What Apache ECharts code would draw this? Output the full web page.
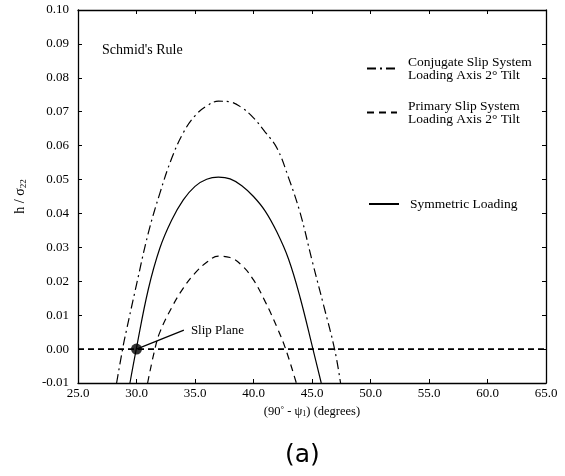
<!DOCTYPE html>
<html>
<head>
<meta charset="utf-8">
<script src="https://cdn.jsdelivr.net/npm/echarts@6/dist/echarts.min.js"></script>
<style>
  html, body { margin: 0; padding: 0; background: #fff; }
  #chart { width: 565px; height: 476px; }
</style>
</head>
<body>
<div id="chart"></div>
<script>
// Resolved shear stress ratio h / sigma22 versus (90° - psi1), Schmid's rule.
var xTicks = [25, 30, 35, 40, 45, 50, 55, 60, 65];
var yTicks = [-0.01, 0.00, 0.01, 0.02, 0.03, 0.04, 0.05, 0.06, 0.07, 0.08, 0.09, 0.10];

// Conjugate slip system, loading axis 2° tilt
var conjDeg = [28.3, 28.81, 29, 30, 31, 32, 33, 34, 35, 36, 37, 38, 39, 40, 41, 42, 43, 44, 45, 46, 46.93, 47.44];
var conjH   = [-0.01, 0, 0.0033, 0.0190, 0.0341, 0.0460, 0.0562, 0.0638, 0.0688, 0.0717, 0.0731, 0.0729, 0.0712, 0.0682, 0.0640, 0.0593, 0.0505, 0.0400, 0.0262, 0.0128, 0, -0.01];

// Primary slip system, loading axis 2° tilt
var primDeg = [30.95, 31.57, 32, 33, 34, 35, 36, 37, 38, 39, 40, 41, 42, 42.75, 43.66];
var primH   = [-0.01, 0, 0.0050, 0.0122, 0.0180, 0.0224, 0.0256, 0.0274, 0.0270, 0.0247, 0.0204, 0.0140, 0.0065, 0, -0.01];

// Symmetric loading
var symDeg = [29.44, 29.98, 31, 32, 33, 34, 35, 36, 37, 38, 39, 40, 41, 42, 43, 44, 45.08, 45.79];
var symH   = [-0.01, 0, 0.0175, 0.0298, 0.0380, 0.0440, 0.0480, 0.0501, 0.0507, 0.0502, 0.0482, 0.0450, 0.0407, 0.0345, 0.0265, 0.0150, 0, -0.01];

// Zero reference line, slip plane point and its pointer
var zeroLineDeg = [25, 65];
var zeroLineH = [0, 0];
var slipPoint = [30.0, 0.0];
var slipPointerEnd = [34.05, 0.0056];

function pairs(xs, ys) { return xs.map(function (x, i) { return [x, ys[i]]; }); }

var SERIF = '"Liberation Serif", "DejaVu Serif", serif';
var DASH_DOT = [9, 4, 2, 4];
var DASHED = [7, 5];

var chart = echarts.init(document.getElementById('chart'), null, { renderer: 'canvas' });

var tickStyle = { show: true, inside: true, length: 4, lineStyle: { color: '#000', width: 1 } };
var axisLine = { show: true, onZero: false, lineStyle: { color: '#000', width: 1.3 } };

// one legend block per series so each can sit at its own spot; the line sample
// keeps the series dash pattern while the marker symbol is hidden
function legendBox(name, left, top) {
  return {
    data: [name],
    left: left, top: top,
    orient: 'vertical',
    itemWidth: 30, itemHeight: 12, itemGap: 0,
    itemStyle: { opacity: 0 },
    selectedMode: false,
    textStyle: { fontFamily: SERIF, fontSize: 13.5, color: '#000', lineHeight: 13, padding: [0, 0, 0, 6] },
    padding: 0
  };
}

chart.setOption({
  animation: false,
  backgroundColor: '#fff',
  grid: { left: 78, right: 19, top: 10, bottom: 93, containLabel: false },
  legend: [
    legendBox('Conjugate Slip System\nLoading Axis 2° Tilt', 366, 55),
    legendBox('Primary Slip System\nLoading Axis 2° Tilt', 366, 99),
    legendBox('Symmetric Loading', 368, 197)
  ],
  xAxis: [{
    type: 'value', min: 25, max: 65, interval: 5,
    axisLine: axisLine, axisTick: tickStyle, splitLine: { show: false },
    axisLabel: { formatter: function (v) { return v.toFixed(1); }, fontFamily: SERIF, fontSize: 13, color: '#000', margin: 4 },
    name: '{a|(90}{s|°}{a| - ψ}{b|1}{a|) (degrees)}',
    nameLocation: 'middle', nameGap: 21,
    nameTextStyle: {
      rich: {
        a: { fontFamily: SERIF, fontSize: 12.5, color: '#000' },
        s: { fontFamily: SERIF, fontSize: 9, color: '#000', padding: [0, 0, 5, 0] },
        b: { fontFamily: SERIF, fontSize: 8, color: '#000', padding: [5, 0, 0, 0] }
      }
    }
  }, {
    type: 'value', position: 'top', min: 25, max: 65, interval: 5,
    axisLine: axisLine, axisTick: tickStyle, axisLabel: { show: false }, splitLine: { show: false }
  }],
  yAxis: [{
    type: 'value', min: -0.01, max: 0.10, interval: 0.01,
    axisLine: axisLine, axisTick: tickStyle, splitLine: { show: false },
    axisLabel: { formatter: function (v) { return v.toFixed(2); }, fontFamily: SERIF, fontSize: 13, color: '#000', margin: 9 },
    name: '{a|h / σ}{b|22}',
    nameLocation: 'middle', nameGap: 50, nameRotate: 90,
    nameTextStyle: {
      rich: {
        a: { fontFamily: SERIF, fontSize: 14, color: '#000' },
        b: { fontFamily: SERIF, fontSize: 9, color: '#000', padding: [6, 0, 0, 0] }
      }
    }
  }, {
    type: 'value', position: 'right', min: -0.01, max: 0.10, interval: 0.01,
    axisLine: axisLine, axisTick: tickStyle, axisLabel: { show: false }, splitLine: { show: false }
  }],
  series: [
    {
      name: 'Conjugate Slip System\nLoading Axis 2° Tilt',
      type: 'line', data: pairs(conjDeg, conjH), smooth: 0.4, symbol: 'none',
      lineStyle: { color: '#000', width: 1.2, type: DASH_DOT }, itemStyle: { color: '#000' }
    },
    {
      name: 'Primary Slip System\nLoading Axis 2° Tilt',
      type: 'line', data: pairs(primDeg, primH), smooth: 0.4, symbol: 'none',
      lineStyle: { color: '#000', width: 1.2, type: DASHED }, itemStyle: { color: '#000' }
    },
    {
      name: 'Symmetric Loading',
      type: 'line', data: pairs(symDeg, symH), smooth: 0.4, symbol: 'none',
      lineStyle: { color: '#000', width: 1.2, type: 'solid' }, itemStyle: { color: '#000' }
    },
    {
      name: 'zero',
      type: 'line', data: pairs(zeroLineDeg, zeroLineH), symbol: 'none', silent: true,
      lineStyle: { color: '#000', width: 1.6, type: [6, 4] }
    },
    {
      name: 'pointer',
      type: 'line', data: [slipPoint, slipPointerEnd], symbol: 'none', silent: true,
      lineStyle: { color: '#000', width: 1.2 },
      endLabel: { show: true, formatter: 'Slip Plane', fontFamily: SERIF, fontSize: 13, color: '#000', distance: 7 }
    },
    {
      name: 'slip',
      type: 'scatter', data: [slipPoint], symbol: 'circle', symbolSize: 11, silent: true,
      itemStyle: { color: '#000' }
    }
  ],
  graphic: [
    {
      type: 'text', left: 102, top: 43,
      style: { text: "Schmid's Rule", font: '14px ' + SERIF, fill: '#000' }
    },
    {
      type: 'text', left: 285, top: 443,
      style: { text: '(a)', font: '25px "DejaVu Sans", sans-serif', fill: '#000' }
    }
  ]
});
</script>
</body>
</html>
